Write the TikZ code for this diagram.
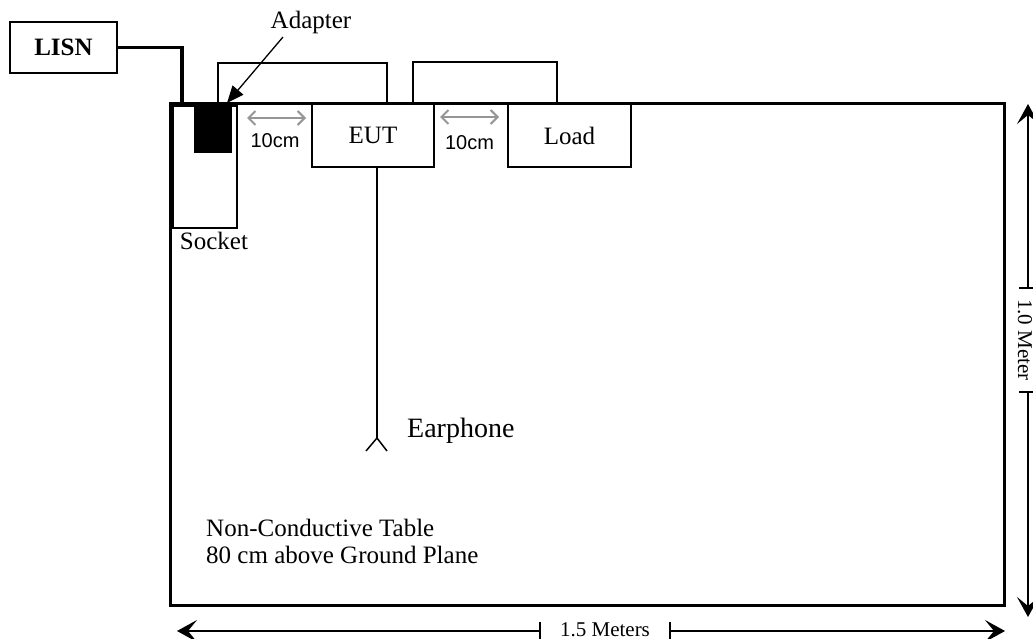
\documentclass[tikz,border=0pt]{standalone}
\usepackage{fontspec}
\setmainfont{Liberation Serif}
\newfontfamily\arialf{Liberation Sans}
\usetikzlibrary{arrows.meta,calc}
\definecolor{gapgray}{RGB}{150,150,150}
\begin{document}
\begin{tikzpicture}[x=1pt,y=-1pt,
  box/.style={draw, line width=1.8pt, inner sep=0pt, font=\fontsize{25}{29}\selectfont},
  lbl/.style={inner sep=0pt, font=\fontsize{25}{29}\selectfont},
  sanslbl/.style={inner sep=0pt, font=\arialf\fontsize{20}{24}\selectfont},
  dimlbl/.style={inner sep=0pt, font=\fontsize{21}{25}\selectfont},
  cable/.style={line width=1.7pt},
  gapar/.style={draw=gapgray, line width=2pt, {Straight Barb[length=7pt,width=14pt]}-{Straight Barb[length=7pt,width=14pt]}},
  dimar/.style={line width=1.3pt, -{Stealth[length=20pt,width=22pt,inset=9pt]}},
  tick/.style={line width=1.3pt}
]
\useasboundingbox (0,0) rectangle (1033,639);

% table
\node[draw, line width=3pt, minimum width=834, minimum height=501, inner sep=0pt] (table) at (587,354.5) {};

% LISN
\node[box, minimum width=107, minimum height=51] (lisn) at (63.5,47.5) {\textbf{LISN}};
\draw[line width=3.2pt] (lisn.east) -| (182,104);

% socket and adapter
\node[draw, line width=1.8pt, minimum width=64, minimum height=122, inner sep=0pt] (socket) at (205,167) {};
\node[fill=black, minimum width=38, minimum height=48, inner sep=0pt] (adapter) at (213,129) {};
\node[lbl, anchor=base] (socketlbl) at (214,249) {Socket};
\node[lbl, anchor=base] (adapterlbl) at (311,29) {Adapter};
\coordinate (astart) at (283,37);
\coordinate (atip) at (227,103);
\draw[line width=1.3pt, -{Triangle[length=17pt,width=14pt]}] (astart) -- (atip);

% EUT and load
\node[box, minimum width=122, minimum height=63] (eut) at (373,135.5) {EUT};
\node[box, minimum width=123, minimum height=63] (load) at (569.5,135.5) {Load};

% cables
\draw[cable] ($(adapter.north)+(5,0)$) -- ++(0,-41.5) -| ($(eut.north)+(14,0)$);
\draw[cable] ($(eut.north)+(40,0)$) -- ++(0,-41) -| ($(load.north)+(-12.5,0)$);

% 10cm gaps
\draw[gapar] (247,118) -- (306,118);
\node[sanslbl] (gap1) at (275,141) {10cm};
\draw[gapar] (440,117) -- (499,117);
\node[sanslbl] (gap2) at (469.5,143) {10cm};

% earphone
\coordinate (ear) at (377,438);
\draw[line width=1.5pt] ($(eut.south)+(4,0)$) -- (ear);
\draw[line width=1.5pt] (366,451) -- (ear) -- (387,451);
\node[inner sep=0pt, font=\fontsize{28}{32}\selectfont, anchor=base west] (earlbl) at (407,437) {Earphone};

% table text
\node[lbl, anchor=base west] (t1) at (206,536) {Non-Conductive Table};
\node[lbl, anchor=base west] (t2) at (206,563) {80 cm above Ground Plane};

% 1.5 m dimension
\draw[dimar] (540,631) -- (177,631);
\draw[dimar] (670,631) -- (1005,631);
\draw[tick] (540,622) -- (540,641);
\draw[tick] (670,622) -- (670,641);
\node[dimlbl, anchor=base] (w) at (605,636) {1.5 Meters};

% 1.0 m dimension
\draw[dimar] (1028,288) -- (1028,104);
\draw[dimar] (1028,392) -- (1028,617);
\draw[tick] (1019,288) -- (1038,288);
\draw[tick] (1019,392) -- (1038,392);
\node[dimlbl, rotate=-90] (h) at (1025,340) {1.0 Meter};
\end{tikzpicture}
\end{document}
